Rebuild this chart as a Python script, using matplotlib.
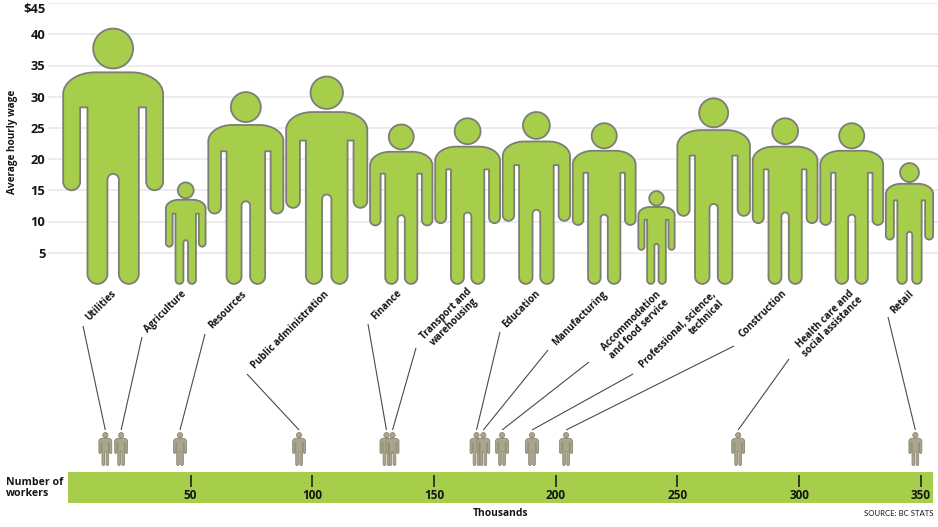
import matplotlib
matplotlib.use("Agg")
import matplotlib.pyplot as plt
from matplotlib.path import Path
from matplotlib.patches import PathPatch
from matplotlib.transforms import ScaledTranslation

W, H = 938, 527
plt.rcParams['font.family'] = ['Open Sans', 'DejaVu Sans']

industries = ["Utilities", "Agriculture", "Resources", "Public administration", "Finance",
              "Transport and\nwarehousing", "Education", "Manufacturing",
              "Accommodation\nand food service", "Professional, science,\ntechnical",
              "Construction", "Health care and\nsocial assistance", "Retail"]
wages = [41.0, 16.3, 30.8, 33.3, 25.6, 26.6, 27.6, 25.8, 14.9, 29.8, 26.6, 25.8, 19.4]
workers = [15.0, 21.5, 45.7, 94.6, 130.5, 133.0, 167.5, 170.3, 178.0, 190.3, 204.3, 275.0, 347.8]
wage_ticks = [5, 10, 15, 20, 25, 30, 35, 40, 45]
wage_labels = ["5", "10", "15", "20", "25", "30", "35", "40", "$45"]
worker_ticks = [50, 100, 150, 200, 250, 300, 350]

GREEN = "#a6ce4a"
GREY = "#7d7d78"
TAN = "#aaa68c"
TEXT = "#151515"
PX_PER_WAGE = 31.2 / 5
ASPECT = 0.392
GAP = 2.5


def person(cx, base, height, xscale):
    """Pictogram path: height in y units, width from xscale (x units per unit of height)."""
    s = height
    k = xscale
    X = lambda v: cx + v * s * k
    Y = lambda v: base + v * s
    c = 0.5523
    v, p = [], []
    def M(x, y): v.append((X(x), Y(y))); p.append(Path.MOVETO)
    def L(x, y): v.append((X(x), Y(y))); p.append(Path.LINETO)
    def C(a, b, d, e, f, g):
        v.extend([(X(a), Y(b)), (X(d), Y(e)), (X(f), Y(g))]); p.extend([Path.CURVE4] * 3)
    outer, arm, torso, inner = 0.1953, 0.129, 0.1004, 0.0223
    top, pit, hand, crotch = 0.827, 0.69, 0.366, 0.43
    rx, ry = 0.125, 0.085   # shoulder radii
    ra = (outer - arm) / 2
    rl = (torso - inner) / 2
    M(-outer + rx, top)
    L(outer - rx, top)
    C(outer - rx * (1 - c), top, outer, top - ry * (1 - c), outer, top - ry)
    L(outer, hand + ra)
    C(outer, hand + ra * (1 - c), outer - ra * (1 - c), hand, outer - ra, hand)
    C(arm + ra * (1 - c), hand, arm, hand + ra * (1 - c), arm, hand + ra)
    L(arm, pit); L(torso, pit)
    L(torso, rl)
    C(torso, rl * (1 - c), torso - rl * (1 - c), 0, torso - rl, 0)
    C(inner + rl * (1 - c), 0, inner, rl * (1 - c), inner, rl)
    L(inner, crotch - inner)
    C(inner, crotch - inner * (1 - c), inner * c, crotch, 0, crotch)
    C(-inner * c, crotch, -inner, crotch - inner * (1 - c), -inner, crotch - inner)
    L(-inner, rl)
    C(-inner, rl * (1 - c), -inner - rl * (1 - c), 0, -torso + rl, 0)
    C(-torso + rl * (1 - c), 0, -torso, rl * (1 - c), -torso, rl)
    L(-torso, pit); L(-arm, pit)
    L(-arm, hand + ra)
    C(-arm, hand + ra * (1 - c), -arm - ra * (1 - c), hand, -outer + ra, hand)
    C(-outer + ra * (1 - c), hand, -outer, hand + ra * (1 - c), -outer, hand + ra)
    L(-outer, top - ry)
    C(-outer, top - ry * (1 - c), -outer + rx * (1 - c), top, -outer + rx, top)
    p.append(Path.CLOSEPOLY); v.append(v[0])
    # head
    hy, r = 0.92, 0.078
    M(r, hy)
    C(r, hy + r * c, r * c, hy + r, 0, hy + r)
    C(-r * c, hy + r, -r, hy + r * c, -r, hy)
    C(-r, hy - r * c, -r * c, hy - r, 0, hy - r)
    C(r * c, hy - r, r, hy - r * c, r, hy)
    p.append(Path.CLOSEPOLY); v.append(v[-1])
    return Path(v, p)


def px_axes(fig, x0, y0, x1, y1, **kw):
    return fig.add_axes([x0 / W, 1 - y1 / H, (x1 - x0) / W, (y1 - y0) / H], **kw)


fig = plt.figure(figsize=(W / 100, H / 100), dpi=100, facecolor="white")

# wage chart: y in dollars, x in layout pixels
ax = px_axes(fig, 48, 3.1, W, 283.9)
ax.set_xlim(48, W)
ax.set_ylim(0, 45)
ax.set_yticks(wage_ticks, wage_labels, fontsize=9.3, fontweight=700, color=TEXT)
ax.set_xticks([])
ax.tick_params(axis="y", length=0, pad=2)
ax.grid(axis="y", color="#e7e7e7", lw=1.1)
ax.set_axisbelow(True)
for s in ax.spines.values():
    s.set_visible(False)
# keep the top label fully inside the picture
top_lab = ax.get_yticklabels()[-1]
top_lab.set_transform(top_lab.get_transform() + ScaledTranslation(0, -3.5 / 72, fig.dpi_scale_trans))

left = 63.0
for wage in wages:
    width = ASPECT * wage * PX_PER_WAGE
    cx = left + width / 2
    ax.add_patch(PathPatch(person(cx, 0, wage, PX_PER_WAGE), fc=GREEN, ec=GREY, lw=1.3,
                           zorder=3, clip_on=False, joinstyle="round"))
    left += width + GAP

# overlay in pixel coordinates for labels, leaders and the worker pictograms
ov = fig.add_axes([0, 0, 1, 1], facecolor="none")
ov.set_xlim(0, W)
ov.set_ylim(H, 0)
ov.axis("off")

label_centres = [(101, 306), (165, 312), (228, 310), (290, 330), (387, 305), (450, 318),
                 (522, 309), (580, 318), (635, 325), (682, 334), (763, 314), (829, 323), (902, 302)]
leader_starts = [(83, 326), (142, 337), (205, 334), (247, 374), (368, 324), (416, 348),
                 (500, 332), (548, 350), (589, 362), (633, 374), (734, 346), (789, 359), (888, 317)]

X0, PXK = 68.8, 2.434
for i, (name, wk) in enumerate(zip(industries, workers)):
    px = X0 + PXK * wk
    ma = "right" if name.startswith("Professional") else "center"
    ov.text(*label_centres[i], name, rotation=45, rotation_mode="anchor", ha="center", va="center",
            ma=ma, fontsize=7, fontweight=700, color=TEXT, linespacing=1.0)
    ov.plot([leader_starts[i][0], px], [leader_starts[i][1], 430], color="#4a4a4a", lw=0.8,
            solid_capstyle="butt")
    # y axis of the overlay runs downward, so the height is negative
    ov.add_patch(PathPatch(person(px, 465.5, -33, -1), fc=TAN, ec="#8a8672", lw=0.6))

# worker scale strip
bx = px_axes(fig, 68, 472, 933, 503)
bx.set_facecolor(GREEN)
bx.set_xlim((68 - X0) / PXK, (933 - X0) / PXK)
bx.set_ylim(0, 1)
bx.set_yticks([])
bx.set_xticks(worker_ticks, [str(t) for t in worker_ticks], fontsize=8.5, fontweight=700, color=TEXT)
bx.tick_params(axis="x", length=0, pad=-10)
bx.vlines(worker_ticks, 0.52, 0.9, color=TEXT, lw=1.1)
for s in bx.spines.values():
    s.set_visible(False)

fig.text(6 / W, 1 - 488 / H, "Number of\nworkers", fontsize=7.6, fontweight=700, color=TEXT,
         ha="left", va="center", linespacing=1.05)
fig.text(473 / W, 1 - 513 / H, "Thousands", fontsize=7.4, fontweight=700, color=TEXT, ha="left", va="center")
fig.text(933 / W, 1 - 513 / H, "SOURCE: BC STATS", fontsize=5.6, color=TEXT, ha="right", va="center",
         family=["Lato", "DejaVu Sans"])
fig.text(13 / W, 1 - 142 / H, "Average hourly wage", fontsize=7.2, fontweight=700, color=TEXT,
         rotation=90, ha="center", va="center")

fig.savefig("out.png", dpi=100)
